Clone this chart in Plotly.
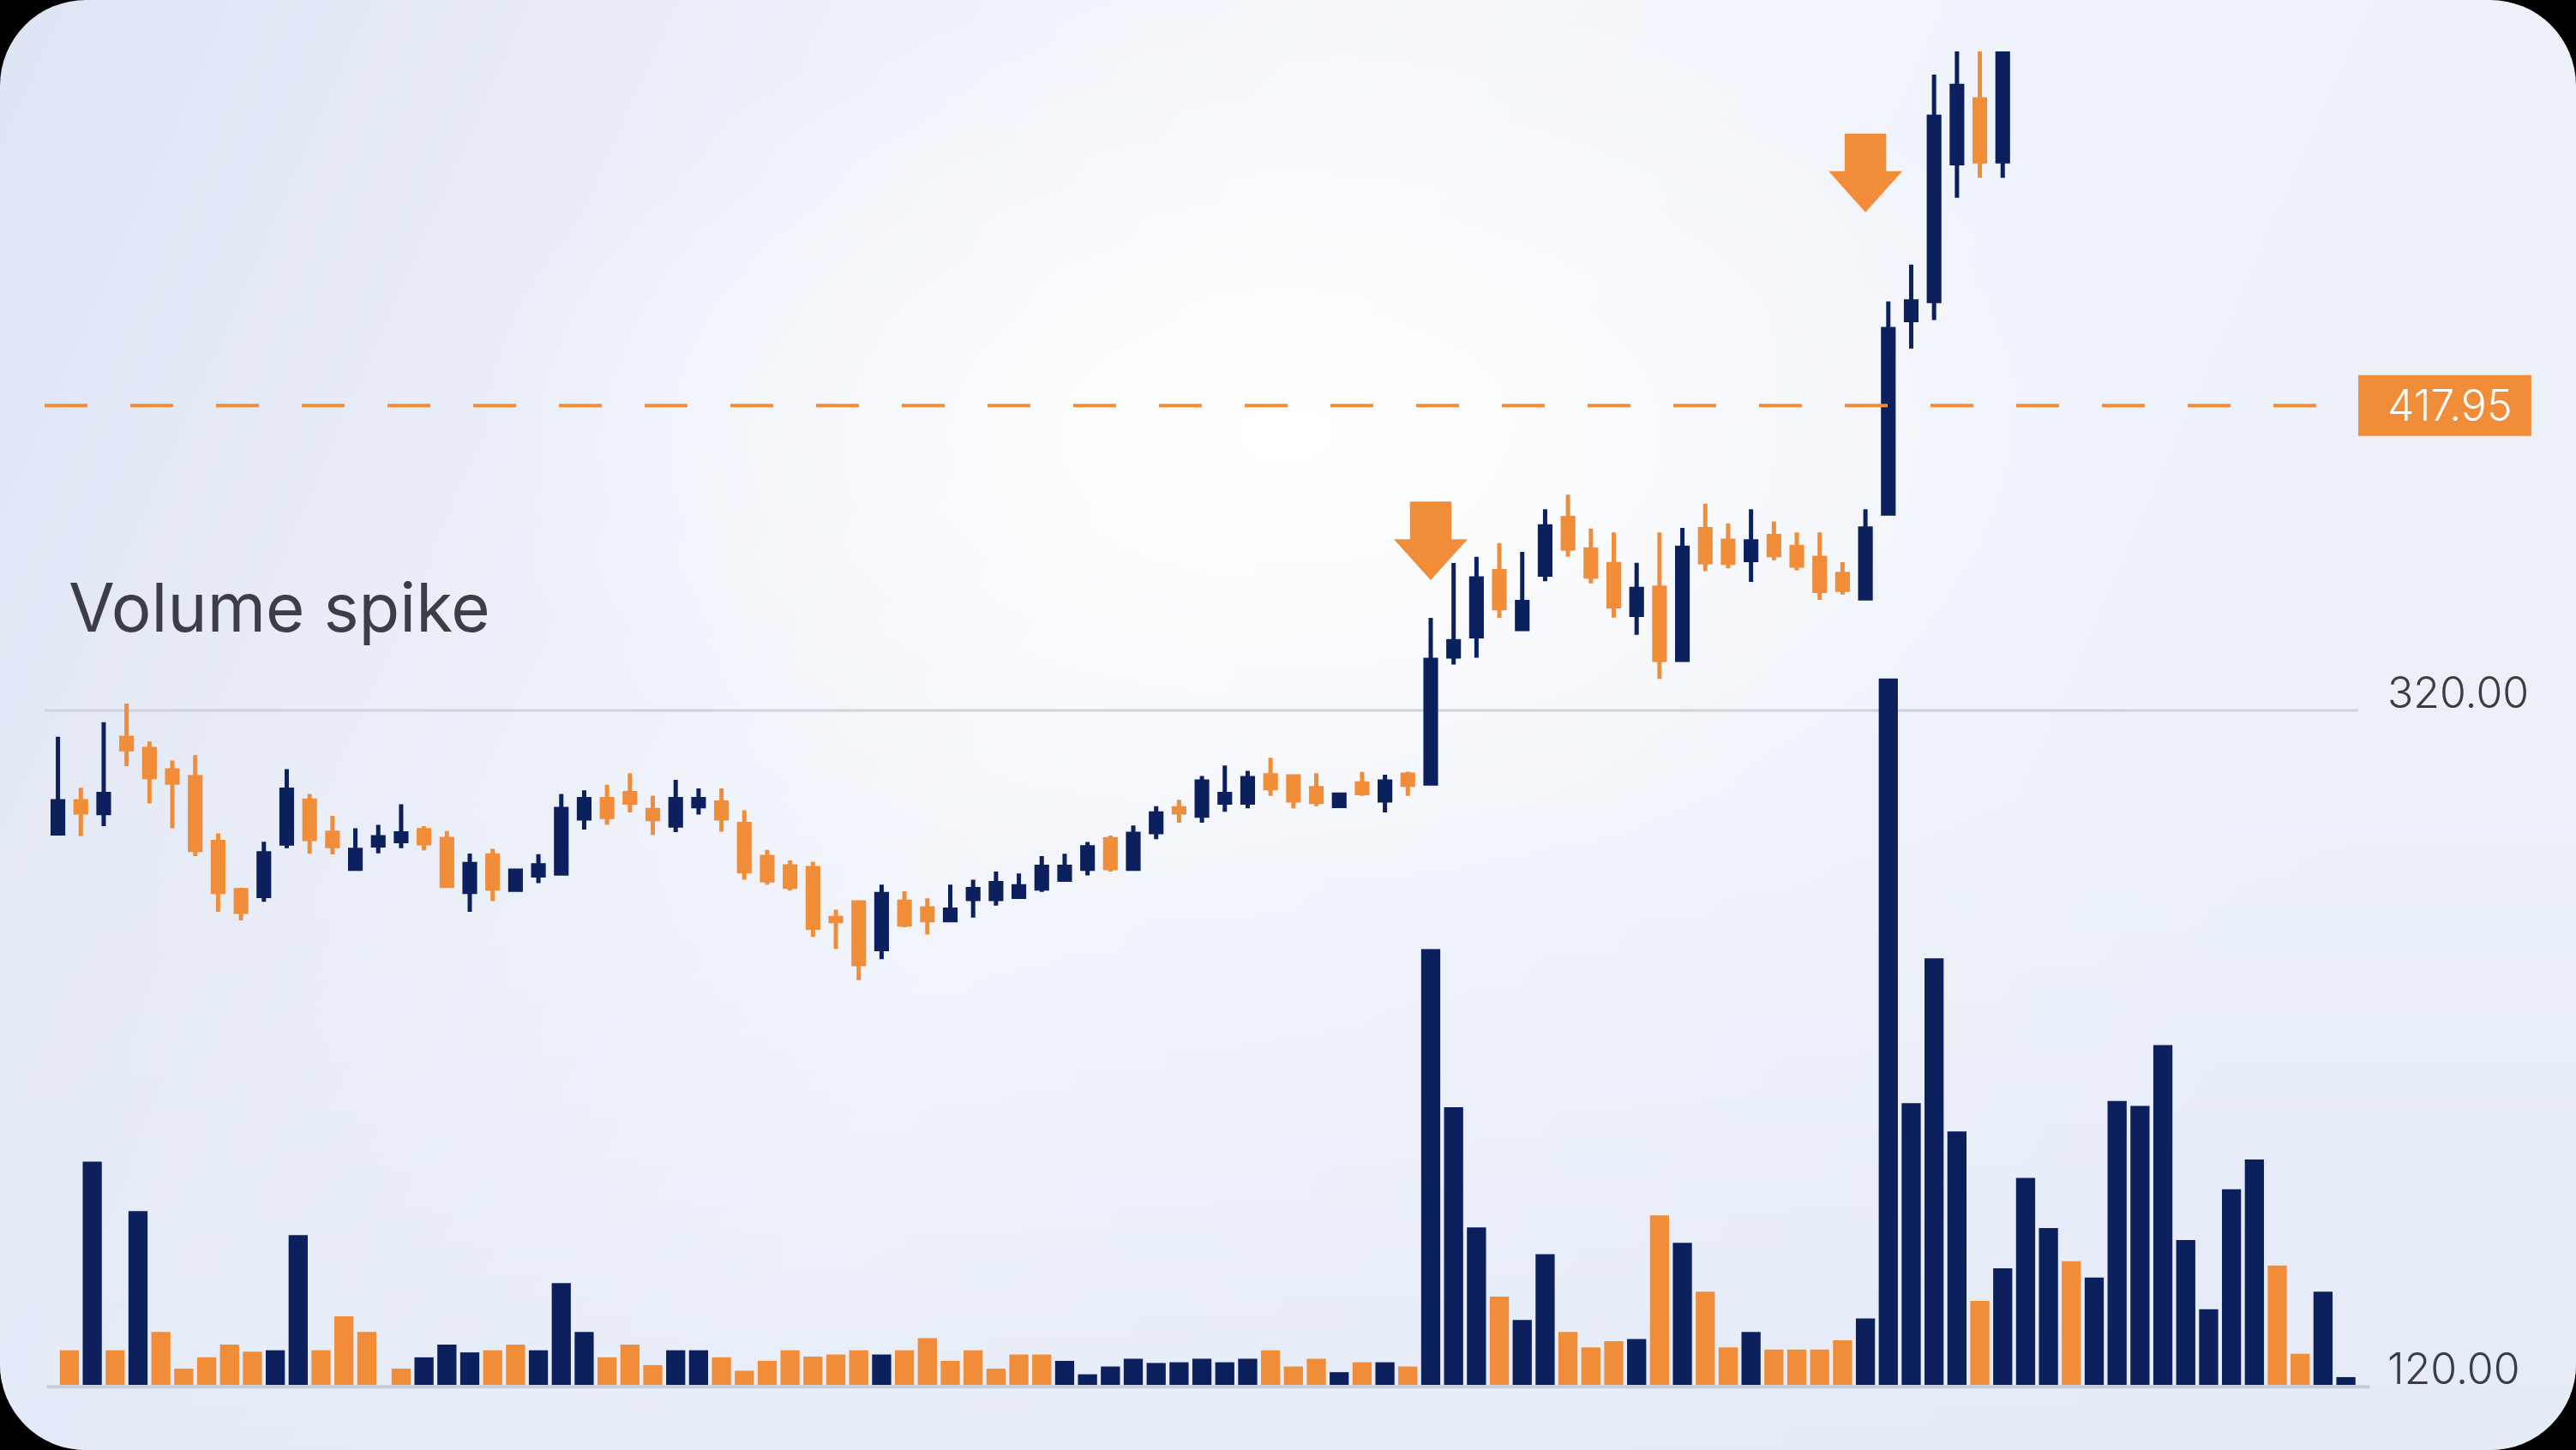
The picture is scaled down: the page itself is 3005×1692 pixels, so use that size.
import base64
import plotly.graph_objects as go

NAVY = "#0c205e"
ORANGE = "#f18c38"
TEXT = "#3a3d45"

# candles (price units)
opens = [280.5, 290.8, 287.0, 311.2, 307.6, 300.7, 298.6, 277.7, 262.2, 260.4,
         277.2, 291.0, 280.7, 269.1, 276.6, 278.0, 281.5, 278.7, 261.7, 273.4,
         262.4, 267.0, 267.6, 285.3, 291.5, 293.4, 288.0, 283.0, 289.2, 290.4,
         283.5, 272.9, 269.9, 269.3, 253.3, 258.3, 243.3, 258.5, 256.4, 252.6,
         259.4, 259.4, 260.1, 262.8, 265.6, 269.1, 278.6, 269.1, 280.9, 288.5,
         286.2, 290.4, 290.4, 299.1, 298.8, 295.0, 289.3, 296.5, 291.1, 299.3,
         296.5, 337.3, 343.8, 364.7, 346.1, 363.6, 381.8, 371.7, 367.0, 350.7,
         359.4, 336.2, 378.2, 374.5, 368.3, 376.0, 372.5, 369.0, 363.8, 356.0,
         383.2, 445.4, 451.5, 495.8, 516.3, 496.4]
highs = [311.5, 295.1, 316.2, 322.2, 310.0, 303.9, 305.6, 280.5, 263.0, 277.8,
         301.1, 293.1, 286.1, 282.1, 283.2, 289.8, 282.8, 281.2, 274.0, 275.5,
         268.5, 273.8, 293.1, 294.3, 296.1, 299.8, 292.6, 297.7, 294.9, 294.9,
         287.9, 275.2, 271.8, 271.4, 256.0, 258.3, 264.0, 261.9, 259.6, 264.0,
         265.6, 268.2, 267.6, 273.2, 273.9, 277.7, 279.8, 283.0, 289.2, 291.3,
         298.9, 302.3, 300.6, 304.8, 298.8, 299.8, 292.9, 300.2, 299.3, 300.3,
         349.7, 367.3, 369.3, 373.7, 370.9, 384.6, 389.3, 378.4, 377.2, 367.4,
         377.2, 378.6, 386.4, 380.1, 384.6, 380.7, 377.2, 377.2, 367.6, 384.6,
         451.4, 463.2, 524.3, 534.0, 536.0, 552.0]
lows = [280.5, 279.6, 282.8, 302.1, 290.1, 282.1, 273.2, 255.3, 252.5, 258.5,
        275.7, 273.9, 273.7, 269.1, 274.1, 275.7, 275.0, 263.3, 255.3, 258.7,
        262.4, 264.5, 267.6, 281.7, 283.2, 287.2, 280.0, 280.9, 286.5, 281.0,
        265.6, 264.0, 262.1, 247.2, 243.4, 233.3, 240.1, 250.3, 248.0, 252.6,
        253.4, 257.3, 259.8, 261.7, 265.6, 267.0, 268.2, 269.1, 278.6, 283.9,
        283.9, 287.4, 288.5, 292.5, 288.5, 289.2, 289.3, 292.5, 287.2, 292.5,
        296.5, 334.7, 336.9, 349.7, 346.1, 361.5, 369.4, 360.8, 349.8, 344.3,
        330.1, 336.2, 364.7, 365.6, 361.3, 368.2, 365.0, 355.5, 357.2, 356.0,
        383.2, 436.2, 445.4, 484.7, 491.1, 491.1]
closes = [290.8, 287.2, 293.1, 307.5, 298.6, 296.8, 275.2, 261.7, 255.3, 274.1,
          294.5, 278.7, 276.4, 275.2, 279.2, 280.5, 277.3, 263.6, 270.6, 262.8,
          268.5, 270.2, 288.3, 291.5, 285.8, 290.4, 285.1, 291.5, 291.5, 285.3,
          268.3, 265.4, 263.3, 250.2, 252.3, 238.5, 261.0, 251.2, 252.6, 256.0,
          262.6, 264.5, 263.5, 269.7, 269.7, 276.0, 269.3, 280.3, 286.9, 287.2,
          297.1, 293.1, 298.2, 295.0, 291.1, 290.6, 292.9, 293.4, 297.1, 296.1,
          336.2, 342.2, 362.4, 352.8, 354.8, 379.1, 372.0, 363.0, 353.4, 359.0,
          336.2, 372.2, 367.6, 367.4, 374.3, 369.9, 366.5, 358.4, 358.7, 378.4,
          442.5, 451.4, 510.7, 520.6, 496.4, 545.0]

# volume panel
volume = [4.9, 31.6, 4.9, 24.6, 7.5, 2.3, 3.9, 5.7, 4.7, 4.9,
          21.2, 4.9, 9.7, 7.5, 2.3, 3.9, 5.7, 4.6, 4.9, 5.7,
          4.9, 14.4, 7.5, 3.9, 5.7, 2.8, 4.9, 4.9, 3.9, 2.0,
          3.4, 4.9, 4.0, 4.3, 4.9, 4.3, 4.9, 6.6, 3.4, 4.9,
          2.3, 4.3, 4.3, 3.4, 1.5, 2.6, 3.7, 3.1, 3.2, 3.7,
          3.2, 3.7, 4.9, 2.6, 3.7, 1.8, 3.2, 3.2, 2.6, 61.7,
          39.3, 22.3, 12.5, 9.2, 18.5, 7.5, 5.3, 6.2, 6.5, 24.0,
          20.1, 13.2, 5.3, 7.5, 5.0, 5.0, 5.0, 6.3, 9.4, 100.0,
          39.9, 60.4, 35.9, 11.9, 16.5, 29.3, 22.2, 17.5, 15.2, 40.2,
          39.5, 48.1, 20.5, 10.7, 27.7, 31.9, 16.9, 4.4, 13.2, 1.1]
volume_up = [0, 1, 0, 1, 0, 0, 0, 0, 0, 1,
             1, 0, 0, 0, 0, 1, 1, 1, 0, 0,
             1, 1, 1, 0, 0, 0, 1, 1, 0, 0,
             0, 0, 0, 0, 0, 1, 0, 0, 0, 0,
             0, 0, 0, 1, 1, 1, 1, 1, 1, 1,
             1, 1, 0, 0, 0, 1, 0, 1, 0, 1,
             1, 1, 0, 1, 1, 0, 0, 0, 1, 0,
             1, 0, 0, 1, 0, 0, 0, 0, 1, 1,
             1, 1, 1, 0, 1, 1, 1, 0, 1, 1,
             1, 1, 1, 1, 1, 1, 0, 0, 1, 1]
volume_gap_after = 14  # first bars sit half a slot earlier

level = 417.95
support = 320.00
floor_label = "120.00"
signal_idx = [60, 79]
signal_tip = [361.8, 480.0]

candle_x = list(range(len(opens)))
vol_x = [k - 0.5 if k <= volume_gap_after else k for k in range(1, len(volume) + 1)]
vol_colors = [NAVY if u else ORANGE for u in volume_up]

W, H = 3005, 1692
ML, MR, MT, MB = 52, 254, 60, 76
PW, PH = W - ML - MR, H - MT - MB

fig = go.Figure()

fig.add_trace(go.Bar(
    x=vol_x, y=volume, xaxis="x", yaxis="y2",
    marker=dict(color=vol_colors, line=dict(width=0)),
    showlegend=False, hoverinfo="skip",
))

fig.add_trace(go.Candlestick(
    x=candle_x, open=opens, high=highs, low=lows, close=closes,
    increasing=dict(line=dict(color=NAVY, width=5), fillcolor=NAVY),
    decreasing=dict(line=dict(color=ORANGE, width=5), fillcolor=ORANGE),
    whiskerwidth=0, showlegend=False,
))


def down_arrow(xc, tip):
    sw, hw, h, hh = 0.906, 1.61, 25.3, 13.2
    pts = [(xc - sw, tip + h), (xc + sw, tip + h), (xc + sw, tip + hh),
           (xc + hw, tip + hh), (xc, tip), (xc - hw, tip + hh), (xc - sw, tip + hh)]
    return "M " + " L ".join(f"{x:.3f},{y:.3f}" for x, y in pts) + " Z"


shapes = [
    dict(type="line", xref="paper", yref="y", x0=0, x1=1, y0=support, y1=support,
         line=dict(color="#cfd3da", width=3), layer="below"),
    dict(type="line", xref="paper", yref="paper", x0=0.001, x1=1.005, y0=-0.0015, y1=-0.0015,
         line=dict(color="#c9cdd5", width=4), layer="below"),
    dict(type="line", xref="paper", yref="y", x0=0, x1=0.985, y0=level, y1=level,
         line=dict(color=ORANGE, width=4, dash="50px,50px")),
    dict(type="rect", xref="paper", yref="y", x0=1.0, x1=1.0748,
         y0=level - 9.78, y1=level + 9.78, fillcolor=ORANGE, line=dict(width=0)),
]
for i, tip in zip(signal_idx, signal_tip):
    shapes.append(dict(type="path", xref="x", yref="y", path=down_arrow(i, tip),
                       fillcolor=ORANGE, line=dict(width=0)))

label_font = dict(family="Inter, Lato, sans-serif", size=50, color=TEXT, weight=300)
lx = (2783 - ML) / PW
annotations = [
    dict(text="Volume spike", xref="paper", yref="paper", x=(78 - ML) / PW, y=0.5832,
         xanchor="left", yanchor="middle", showarrow=False,
         font=dict(family="Inter, Lato, sans-serif", size=78, color="#3b3e46")),
    dict(text=f"{support:.2f}", xref="paper", yref="y", x=lx, y=support, yshift=-11,
         xanchor="left", yanchor="bottom", showarrow=False, font=label_font),
    dict(text=floor_label, xref="paper", yref="paper", x=lx, y=0, yshift=-13,
         xanchor="left", yanchor="bottom", showarrow=False, font=label_font),
    dict(text=f"{level:.2f}", xref="paper", yref="y", x=lx, y=level,
         xanchor="left", yanchor="middle", showarrow=False,
         font=dict(label_font, color="white")),
]

svg = f"""<svg xmlns='http://www.w3.org/2000/svg' width='{W}' height='{H}' viewBox='0 0 {W} {H}' preserveAspectRatio='none'>
<defs>
<linearGradient id='g' x1='0' y1='0' x2='1' y2='0.25'>
<stop offset='0' stop-color='#dde4f3'/>
<stop offset='0.5' stop-color='#f5f7fc'/>
<stop offset='1' stop-color='#ebf0f9'/>
</linearGradient>
<linearGradient id='v' x1='0' y1='0' x2='0' y2='1'>
<stop offset='0.55' stop-color='#e3eaf7' stop-opacity='0'/>
<stop offset='1' stop-color='#e3eaf7' stop-opacity='0.8'/>
</linearGradient>
<radialGradient id='r' cx='0.5' cy='0.3' r='0.32'>
<stop offset='0' stop-color='#ffffff' stop-opacity='1'/>
<stop offset='1' stop-color='#ffffff' stop-opacity='0'/>
</radialGradient>
</defs>
<rect width='{W}' height='{H}' rx='100' ry='100' fill='url(#g)'/>
<rect width='{W}' height='{H}' rx='100' ry='100' fill='url(#v)'/>
<rect width='{W}' height='{H}' rx='100' ry='100' fill='url(#r)'/>
</svg>"""
bg_src = "data:image/svg+xml;base64," + base64.b64encode(svg.encode()).decode()

fig.update_layout(
    width=W, height=H,
    margin=dict(l=ML, r=MR, t=MT, b=MB),
    paper_bgcolor="black",
    plot_bgcolor="rgba(0,0,0,0)",
    showlegend=False,
    boxgap=0.35,
    bargap=0.165,
    xaxis=dict(range=[-0.584, 100.54], visible=False, rangeslider=dict(visible=False),
               fixedrange=True),
    yaxis=dict(range=[103.3, 531.7], visible=False, fixedrange=True),
    yaxis2=dict(range=[0, 188.8], overlaying="y", visible=False, fixedrange=True),
    shapes=shapes,
    annotations=annotations,
    images=[dict(source=bg_src, xref="paper", yref="paper",
                 x=-ML / PW, y=1 + MT / PH, sizex=W / PW, sizey=H / PH,
                 xanchor="left", yanchor="top", sizing="stretch", layer="below")],
)

fig.write_html("out.html", config={"displayModeBar": False},
               post_script="document.body.style.margin='0';")
